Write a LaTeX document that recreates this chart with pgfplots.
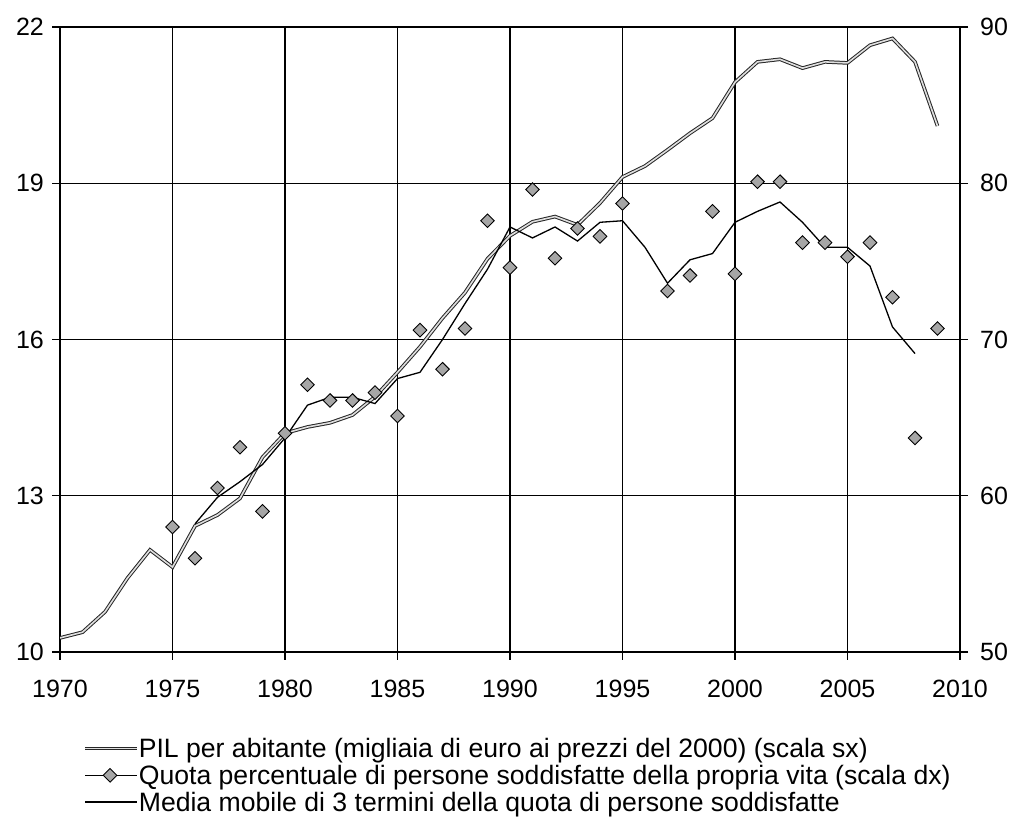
\documentclass[border=0pt]{standalone}
\usepackage{fontspec}
\setmainfont{Liberation Sans}
\usepackage{pgfplots}
\pgfplotsset{compat=1.18}

\pgfplotstableread{
year gdp
1970 10.27
1971 10.38
1972 10.77
1973 11.42
1974 11.96
1975 11.63
1976 12.42
1977 12.63
1978 12.95
1979 13.74
1980 14.20
1981 14.32
1982 14.40
1983 14.55
1984 14.90
1985 15.37
1986 15.86
1987 16.41
1988 16.90
1989 17.55
1990 17.99
1991 18.26
1992 18.36
1993 18.20
1994 18.62
1995 19.12
1996 19.33
1997 19.64
1998 19.96
1999 20.25
2000 20.94
2001 21.33
2002 21.38
2003 21.21
2004 21.33
2005 21.31
2006 21.65
2007 21.78
2008 21.33
2009 20.10
}\gdptable

\pgfplotstableread{
year sat
1975 58.0
1976 56.0
1977 60.5
1978 63.1
1979 59.0
1980 64.0
1981 67.1
1982 66.1
1983 66.1
1984 66.6
1985 65.1
1986 70.6
1987 68.1
1988 70.7
1989 77.6
1990 74.6
1991 79.6
1992 75.2
1993 77.1
1994 76.6
1995 78.7
1997 73.1
1998 74.1
1999 78.2
2000 74.2
2001 80.1
2002 80.1
2003 76.2
2004 76.2
2005 75.3
2006 76.2
2007 72.7
2008 63.7
2009 70.7
}\sattable

\pgfplotstableread{
year ma
1976 58.2
1977 59.9
1978 60.9
1979 62.0
1980 63.7
1981 65.8
1982 66.3
1983 66.3
1984 65.9
1985 67.5
1986 67.9
1987 70.0
1988 72.3
1989 74.5
1990 77.2
1991 76.5
1992 77.2
1993 76.3
1994 77.5
1995 77.6
1996 75.9
1997 73.6
1998 75.1
1999 75.5
2000 77.5
2001 78.2
2002 78.8
2003 77.5
2004 75.9
2005 75.9
2006 74.7
2007 70.8
2008 69.1
}\matable

\pgfplotsset{
  common/.style={
    at={(60bp,177bp)}, anchor=south west,
    scale only axis, width=900bp, height=625bp,
    xmin=1970, xmax=2010,
    tick align=outside, major tick length=8bp,
    tick style={black, line width=1.2bp},
    ticklabel style={font=\fontsize{25bp}{30bp}\selectfont, inner sep=0pt},
    /pgf/number format/assume math mode=true,
    /pgf/number format/1000 sep={},
  },
  gdpstyle/.style={draw=black!85, double=gray!25, double distance=1.6bp, line width=1.0bp},
  longline/.style={legend image code/.code={\draw[##1] (0bp,0bp) -- (52bp,0bp);}},
  diamleg/.style={legend image code/.code={\path (0bp,0bp) -- (52bp,0bp); \draw[mark repeat=1,mark phase=1,##1] plot coordinates {(25bp,0bp)};}},
}

\begin{document}
\begin{tikzpicture}[x=1bp,y=1bp]
\useasboundingbox (0,0) rectangle (1014,829);
\begin{axis}[
  common,
  ymin=10, ymax=22,
  xtick={1970,1975,...,2010}, ytick={10,13,16,19,22},
  xtick pos=bottom, ytick pos=left,
  grid=major, major grid style={black, line width=1.4bp},
  axis line style={black, line width=1.5bp},
  xticklabel style={anchor=north, yshift=-20bp},
  yticklabel style={anchor=east, xshift=-8bp},
]
\addplot[gdpstyle] table[x=year, y=gdp] {\gdptable};
\end{axis}
\begin{axis}[
  common,
  ymin=50, ymax=90,
  ytick={50,60,70,80,90},
  axis x line=none, axis y line*=right,
  axis line style={draw=none},
  yticklabel style={anchor=west, xshift=12bp},
  legend cell align=left,
  legend style={at={(0.0256,-0.1376)}, anchor=north west, draw=none, fill=none,
    font=\fontsize{26.6bp}{30bp}\selectfont, row sep=6bp, inner sep=0pt,
    nodes={inner sep=0pt},
    /tikz/every even column/.append style={column sep=5bp}},
]
\addlegendimage{gdpstyle, longline}
\addlegendentry{PIL per abitante (migliaia di euro ai prezzi del 2000) (scala sx)}
\addplot[only marks, mark=square*, mark size=4.8bp,
  mark options={rotate=45, fill=gray!70, draw=black, line width=0.9bp}, diamleg]
  table[x=year, y=sat] {\sattable};
\addlegendentry{Quota percentuale di persone soddisfatte della propria vita (scala dx)}
\addplot[black, line width=1.3bp, longline] table[x=year, y=ma] {\matable};
\addlegendentry{Media mobile di 3 termini della quota di persone soddisfatte}
\end{axis}
\end{tikzpicture}
\end{document}
